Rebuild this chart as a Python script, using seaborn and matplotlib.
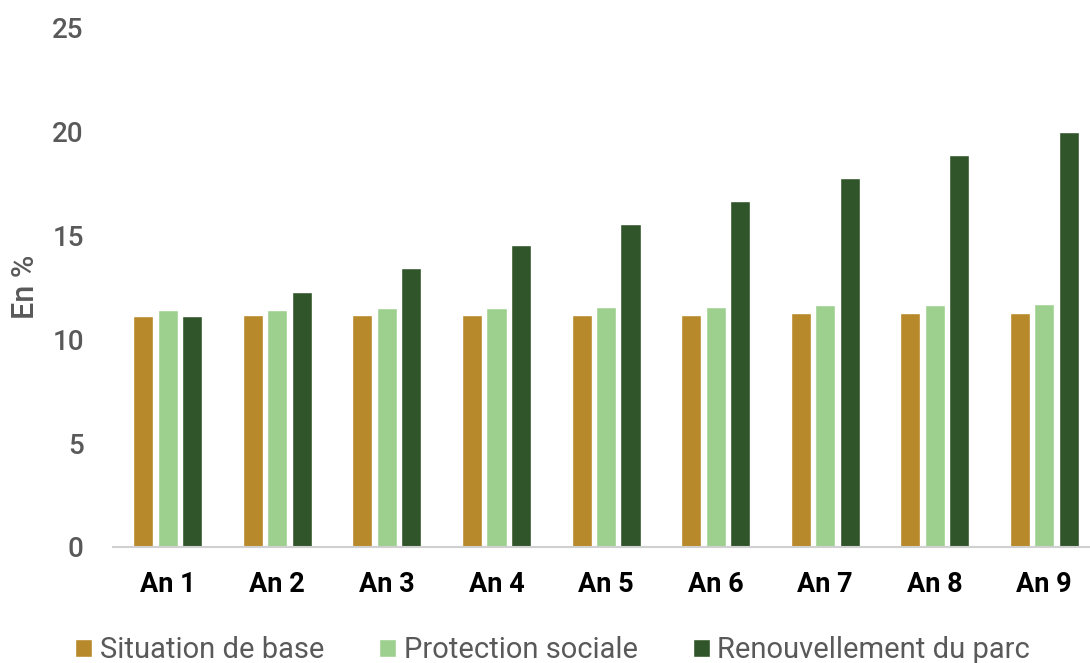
import matplotlib
matplotlib.use("Agg")
import matplotlib.pyplot as plt
import seaborn as sns
import pandas as pd

years = ["An 1", "An 2", "An 3", "An 4", "An 5", "An 6", "An 7", "An 8", "An 9"]
situation_base = [11.1, 11.15, 11.15, 11.15, 11.15, 11.15, 11.25, 11.25, 11.25]
protection_sociale = [11.4, 11.4, 11.5, 11.5, 11.55, 11.55, 11.65, 11.65, 11.7]
renouvellement = [11.1, 12.25, 13.4, 14.5, 15.55, 16.65, 17.75, 18.85, 19.95]
series = ["Situation de base", "Protection sociale", "Renouvellement du parc"]
colors = ["#B8892A", "#9DD08F", "#31552A"]

df = pd.DataFrame({
    "year": years * 3,
    "value": situation_base + protection_sociale + renouvellement,
    "serie": [series[0]] * 9 + [series[1]] * 9 + [series[2]] * 9,
})

sns.set_theme(style="white")
plt.rcParams["font.family"] = ["Roboto", "DejaVu Sans"]

grey = "#595959"

fig = plt.figure(figsize=(10.9, 6.63), dpi=100)
# axis runs a bit past the right edge, as in the original
ax = fig.add_axes([0.1037, 0.175, 0.9046, 0.784])

sns.barplot(data=df, x="year", y="value", hue="serie", palette=colors,
            width=0.67, gap=0.18, ax=ax, saturation=1, legend=True)

ax.set_ylim(0, 25)
ax.set_yticks([0, 5, 10, 15, 20, 25])
ax.set_xlim(-0.5, 8.5)
ax.tick_params(axis="y", labelsize=20, labelcolor=grey, length=0, pad=21)
ax.tick_params(axis="x", labelsize=19.5, length=0, pad=17.5)
for lbl in ax.get_yticklabels():
    lbl.set_fontweight("medium")
for lbl in ax.get_xticklabels():
    lbl.set_fontweight("bold")
    lbl.set_color("black")

for s in ["top", "right", "left"]:
    ax.spines[s].set_visible(False)
ax.spines["bottom"].set_color("#D0D0D0")
ax.spines["bottom"].set_linewidth(1.5)

ax.set_xlabel("")
ax.set_ylabel("En %", fontsize=22, color=grey, fontweight="medium", labelpad=9)

handles, labels = ax.get_legend_handles_labels()
ax.legend().remove()
fig.legend(handles, labels, loc="center left", bbox_to_anchor=(75 / 1090, 0.019),
           ncol=3, frameon=False, fontsize=21, handlelength=0.58, handleheight=0.58,
           handletextpad=0.27, columnspacing=1.88, labelcolor=grey,
           borderpad=0, borderaxespad=0)

fig.savefig("out.png", dpi=100)
